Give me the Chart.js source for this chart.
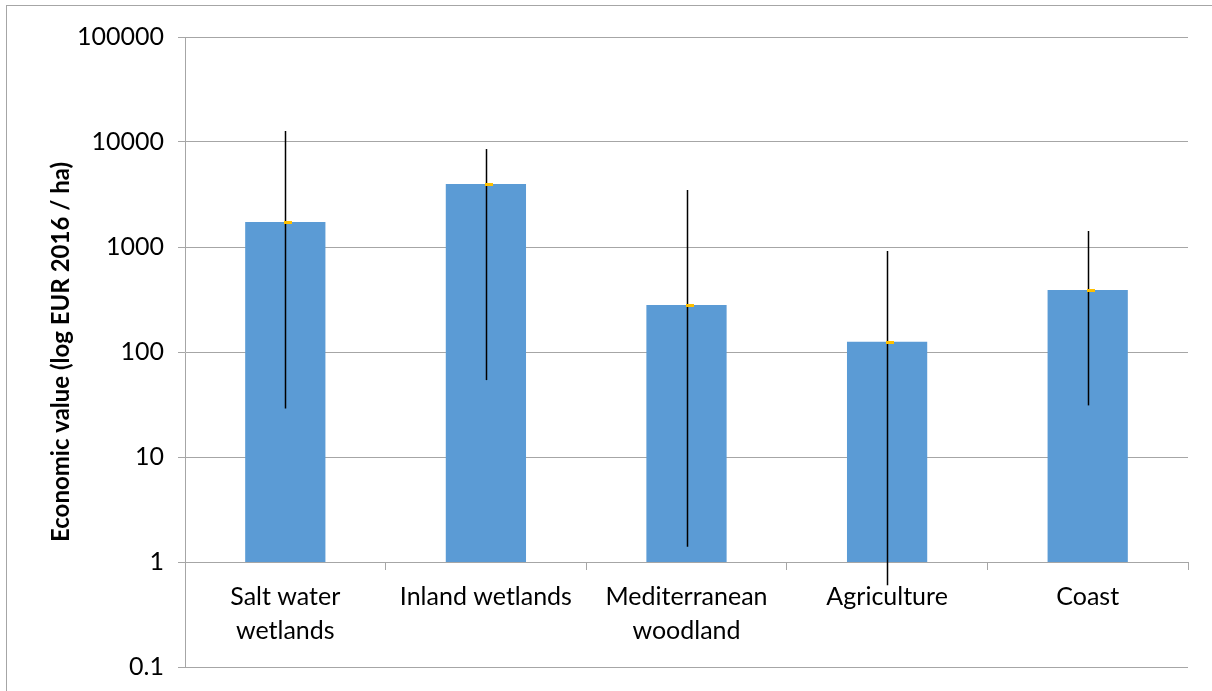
<!DOCTYPE html>
<html>
<head>
<meta charset="utf-8">
<script src="https://cdn.jsdelivr.net/npm/chart.js@4"></script>
<style>
  html, body { margin: 0; padding: 0; background: #fff; }
  #wrap { width: 1212px; height: 691px; position: relative; }
</style>
</head>
<body>
<div id="wrap"><canvas id="c" width="1212" height="691"></canvas></div>
<script>
// data
const categories = [['Salt water', 'wetlands'], 'Inland wetlands', ['Mediterranean', 'woodland'], 'Agriculture', 'Coast'];
const values = [1730, 3980, 280, 125, 390];
const errLow = [29, 54, 1.4, 0.6, 31];
const errHigh = [12700, 8570, 3490, 916, 1420];
const yTicks = [0.1, 1, 10, 100, 1000, 10000, 100000];
const barBase = 1;   // horizontal axis crosses at 1

const FONT = 'Lato, "Open Sans", sans-serif';

// error bars + the small orange value marker
const errorBars = {
  id: 'errorBars',
  afterDatasetsDraw(chart) {
    const ctx = chart.ctx;
    const y = chart.scales.y;
    const meta = chart.getDatasetMeta(0);
    ctx.save();
    meta.data.forEach(function (bar, i) {
      const x = Math.round(bar.x) + 0.5;
      ctx.strokeStyle = '#000';
      ctx.lineWidth = 1.5;
      ctx.beginPath();
      ctx.moveTo(x, y.getPixelForValue(errHigh[i]));
      ctx.lineTo(x, y.getPixelForValue(errLow[i]));
      ctx.stroke();
      const vy = Math.round(y.getPixelForValue(values[i]));
      ctx.fillStyle = '#FFC000';
      ctx.fillRect(Math.round(bar.x) - 1, vy - 1, 8, 3);
    });
    ctx.restore();
  }
};

// outer frame of the chart object
const frame = {
  id: 'frame',
  beforeDraw(chart) {
    const ctx = chart.ctx;
    ctx.save();
    ctx.strokeStyle = '#a6a6a6';
    ctx.lineWidth = 1;
    ctx.strokeRect(6.5, 5.5, 1300, 800);
    ctx.restore();
  }
};

new Chart(document.getElementById('c'), {
  type: 'bar',
  data: {
    labels: categories,
    datasets: [{
      data: values.map(v => [barBase, v]),
      backgroundColor: '#5B9BD5',
      borderWidth: 0,
      barPercentage: 0.4,
      categoryPercentage: 1
    }]
  },
  options: {
    responsive: false,
    animation: false,
    layout: { padding: { top: 37, right: 24, bottom: 24, left: 0 } },
    plugins: { legend: { display: false }, tooltip: { enabled: false } },
    scales: {
      x: {
        position: { y: barBase },
        offset: true,
        grid: { drawOnChartArea: false, drawTicks: true, tickLength: 7, color: '#a6a6a6', offset: true },
        border: { color: '#a6a6a6' },
        ticks: { color: '#000', font: { family: FONT, size: 25, lineHeight: 1.36 }, padding: 11, maxRotation: 0, autoSkip: false }
      },
      y: {
        type: 'logarithmic',
        min: 0.1,
        max: 100000,
        afterBuildTicks(scale) { scale.ticks = yTicks.map(v => ({ value: v })); },
        afterFit(scale) {
          scale.width = 185;
          scale.paddingTop = 0;
          scale.paddingBottom = 0;
        },
        grid: { color: '#a6a6a6', tickLength: 7 },
        border: { color: '#a6a6a6' },
        ticks: {
          color: '#000',
          font: { family: FONT, size: 25 },
          padding: 14,
          callback: v => String(v)
        },
        title: {
          display: true,
          text: 'Economic value (log EUR 2016 / ha)',
          color: '#000',
          font: { family: FONT, size: 24, weight: 'bold' },
          padding: { top: 47, bottom: 0 }
        }
      }
    }
  },
  plugins: [frame, errorBars]
});
</script>
</body>
</html>
